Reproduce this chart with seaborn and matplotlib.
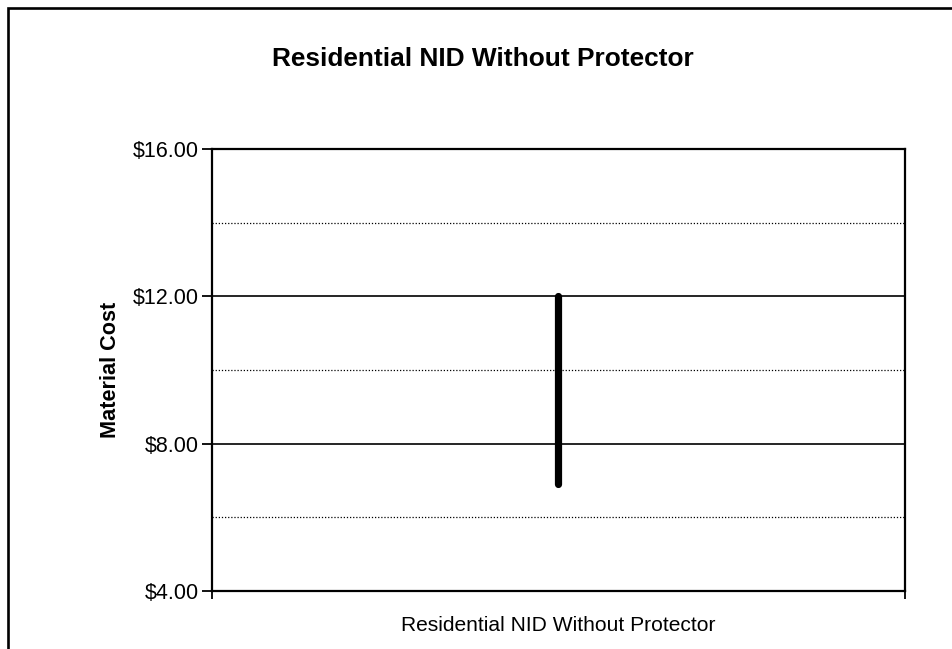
import matplotlib
matplotlib.use("Agg")
import matplotlib.pyplot as plt
from matplotlib.patches import Rectangle
from matplotlib.ticker import FuncFormatter, MultipleLocator
import numpy as np
import pandas as pd
import seaborn as sns

# Cost range for the single product
categories = ["Residential NID Without Protector"]
low_values = [6.9]
high_values = [12.0]
title = "Residential NID Without Protector"
y_label = "Material Cost"

sns.set_theme(style="white")
plt.rcParams["font.family"] = ["Liberation Sans", "DejaVu Sans"]

df = pd.DataFrame({
    "category": categories * 2,
    "cost": low_values + high_values,
    "end": ["low"] * len(categories) + ["high"] * len(categories),
})

W, H = 953, 649
fig = plt.figure(figsize=(W / 100, H / 100), dpi=100)
fig.patch.set_facecolor("white")
ax = fig.add_axes([212 / W, 1 - 591 / H, (905 - 212) / W, (591 - 149) / H])

sns.lineplot(data=df, x="category", y="cost", estimator=None, sort=False,
             color="black", linewidth=5.2, ax=ax, zorder=5,
             solid_capstyle="round")

ax.set_xlim(-0.5, 0.5)
ax.set_ylim(4, 16)

# gridlines: solid at majors, dotted at minors
ax.yaxis.set_major_locator(MultipleLocator(4))
ax.yaxis.set_minor_locator(MultipleLocator(2))
ax.grid(which="major", axis="y", color="black", linewidth=1.2, linestyle="-")
ax.grid(which="minor", axis="y", color="black", linewidth=0.9, linestyle=(0, (1, 1.5)))
ax.grid(which="both", axis="x", visible=False)
ax.set_axisbelow(True)

ax.yaxis.set_major_formatter(FuncFormatter(lambda v, p: f"${v:.2f}"))
ax.tick_params(axis="y", which="major", direction="out", length=7, width=1.3,
               color="black", labelsize=15.5, pad=2.5, left=True)
ax.tick_params(axis="y", which="minor", length=0)

# category label centred, ticks at the category edges
ax.set_xticks([0])
ax.set_xticklabels(categories)
ax.set_xticks([-0.5, 0.5], minor=True)
ax.tick_params(axis="x", which="major", length=0, labelsize=15.1, pad=18)
ax.tick_params(axis="x", which="minor", direction="out", length=6, width=1.3,
               color="black", bottom=True)
ax.set_xlabel("")

for s in ax.spines.values():
    s.set_color("black")
    s.set_linewidth(1.6)
    s.set_visible(True)

ax.set_ylabel(y_label, fontsize=15.6, fontweight="bold", color="black")
ax.yaxis.set_label_coords(-0.131, 0.5)
for lab in ax.get_yticklabels() + ax.get_xticklabels():
    lab.set_color("black")

fig.text(483 / W, 1 - 59 / H, title, ha="center", va="center",
         fontsize=18.9, fontweight="bold", color="black")

# outer chart frame
fig.add_artist(Rectangle((8 / W, -0.5), 2.0, 1.5 - 8 / H, transform=fig.transFigure,
                         fill=False, edgecolor="black", linewidth=1.9, clip_on=False))

fig.savefig("out.png", dpi=100, facecolor="white")
